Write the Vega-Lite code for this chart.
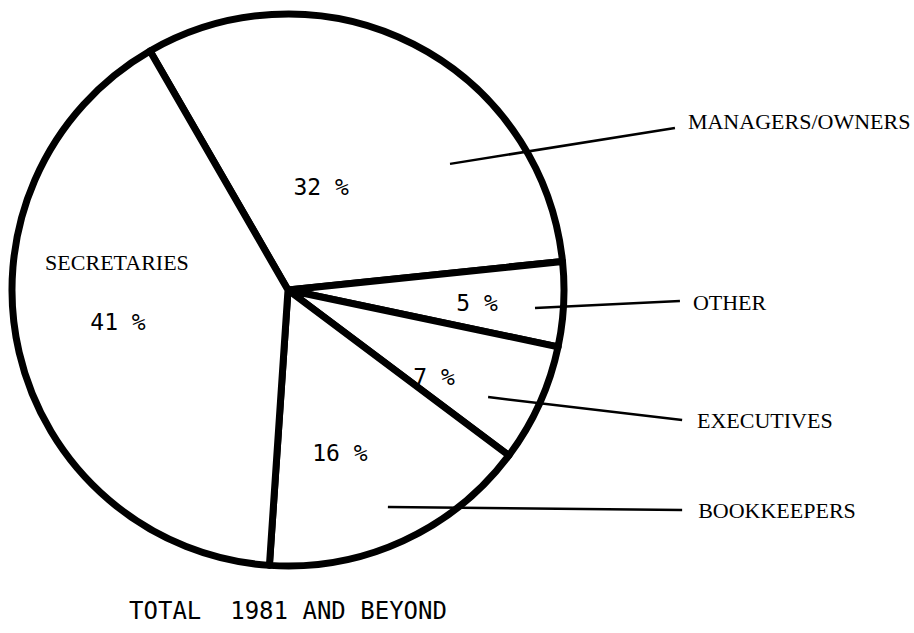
{
  "$schema": "https://vega.github.io/schema/vega-lite/v6.json",
  "width": 576,
  "height": 580,
  "autosize": {"type": "none"},
  "padding": {"left": 0, "top": 0, "right": 338, "bottom": 53},
  "background": "white",
  "config": {"view": {"stroke": null}},
  "title": {
    "text": "TOTAL \u00a01981 AND BEYOND",
    "orient": "bottom",
    "anchor": "middle",
    "offset": 20,
    "font": "DejaVu Sans Mono",
    "fontSize": 24,
    "fontWeight": "normal",
    "color": "black"
  },
  "datasets": {
    "slices": [
      {"category": "MANAGERS/OWNERS", "percent": 32, "seq": 1},
      {"category": "OTHER", "percent": 5, "seq": 2},
      {"category": "EXECUTIVES", "percent": 7, "seq": 3},
      {"category": "BOOKKEEPERS", "percent": 16, "seq": 4},
      {"category": "SECRETARIES", "percent": 41, "seq": 5}
    ],
    "pctlabels": [
      {"label": "32 %", "u": 0.120, "v": 0.370},
      {"label": "5 %", "u": 0.685, "v": -0.051},
      {"label": "7 %", "u": 0.529, "v": -0.319},
      {"label": "16 %", "u": 0.188, "v": -0.594},
      {"label": "41 %", "u": -0.616, "v": -0.120}
    ],
    "names": [
      {"category": "MANAGERS/OWNERS", "u": 1.449, "v": 0.609},
      {"category": "OTHER", "u": 1.467, "v": -0.047},
      {"category": "EXECUTIVES", "u": 1.482, "v": -0.475},
      {"category": "BOOKKEEPERS", "u": 1.486, "v": -0.801},
      {"category": "SECRETARIES", "u": -0.880, "v": 0.098}
    ],
    "leaders": [
      {"category": "MANAGERS/OWNERS", "u1": 0.587, "v1": 0.457, "u2": 1.402, "v2": 0.587},
      {"category": "OTHER", "u1": 0.895, "v1": -0.065, "u2": 1.420, "v2": -0.040},
      {"category": "EXECUTIVES", "u1": 0.725, "v1": -0.388, "u2": 1.428, "v2": -0.471},
      {"category": "BOOKKEEPERS", "u1": 0.362, "v1": -0.786, "u2": 1.428, "v2": -0.797}
    ]
  },
  "layer": [
    {
      "data": {"name": "slices"},
      "mark": {"type": "arc", "outerRadius": 276, "fill": "white", "stroke": "black", "strokeWidth": 7, "strokeJoin": "round"},
      "encoding": {
        "theta": {"field": "percent", "type": "quantitative", "stack": true, "scale": {"range": [-0.5236, 5.7596]}},
        "order": {"field": "seq", "type": "quantitative"},
        "detail": {"field": "category", "type": "nominal"}
      }
    },
    {
      "data": {"name": "leaders"},
      "mark": {"type": "rule", "strokeWidth": 2.5, "color": "black"},
      "encoding": {
        "x": {"field": "u1", "type": "quantitative", "scale": {"domain": [-1.04348, 1.04348], "nice": false, "zero": false}, "axis": null},
        "y": {"field": "v1", "type": "quantitative", "scale": {"domain": [-1.05072, 1.05072], "nice": false, "zero": false}, "axis": null},
        "x2": {"field": "u2"},
        "y2": {"field": "v2"}
      }
    },
    {
      "data": {"name": "names"},
      "mark": {"type": "text", "align": "left", "baseline": "middle", "font": "Liberation Serif", "fontSize": 22, "color": "black"},
      "encoding": {
        "x": {"field": "u", "type": "quantitative", "scale": {"domain": [-1.04348, 1.04348], "nice": false, "zero": false}, "axis": null},
        "y": {"field": "v", "type": "quantitative", "scale": {"domain": [-1.05072, 1.05072], "nice": false, "zero": false}, "axis": null},
        "text": {"field": "category", "type": "nominal"}
      }
    },
    {
      "data": {"name": "pctlabels"},
      "mark": {"type": "text", "align": "center", "baseline": "middle", "font": "DejaVu Sans Mono", "fontSize": 23, "color": "black"},
      "encoding": {
        "x": {"field": "u", "type": "quantitative", "scale": {"domain": [-1.04348, 1.04348], "nice": false, "zero": false}, "axis": null},
        "y": {"field": "v", "type": "quantitative", "scale": {"domain": [-1.05072, 1.05072], "nice": false, "zero": false}, "axis": null},
        "text": {"field": "label", "type": "nominal"}
      }
    }
  ]
}
